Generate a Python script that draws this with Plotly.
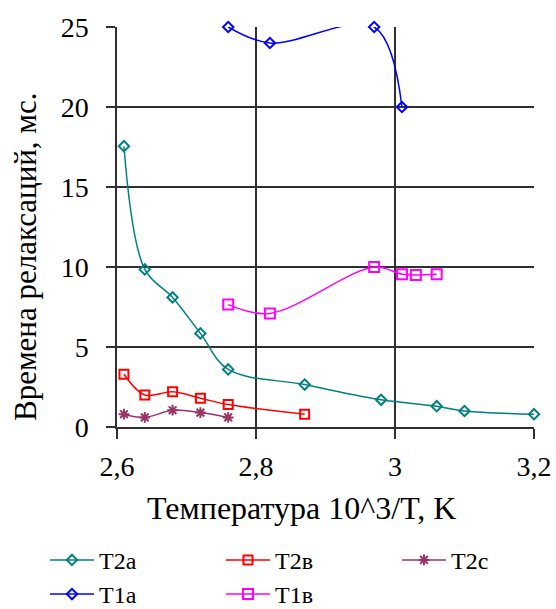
import plotly.graph_objects as go

# Data
t2a_x = [2.61, 2.64, 2.68, 2.72, 2.76, 2.87, 2.98, 3.06, 3.10, 3.20]
t2a_y = [17.55, 9.85, 8.1, 5.85, 3.6, 2.65, 1.7, 1.3, 1.0, 0.8]
t2b_x = [2.61, 2.64, 2.68, 2.72, 2.76, 2.87]
t2b_y = [3.3, 2.0, 2.2, 1.8, 1.4, 0.8]
t2c_x = [2.61, 2.64, 2.68, 2.72, 2.76]
t2c_y = [0.8, 0.6, 1.05, 0.9, 0.6]
t1a_x = [2.76, 2.82, 2.97, 3.01]
t1a_y = [25.0, 24.0, 25.0, 20.0]
t1b_x = [2.76, 2.82, 2.97, 3.01, 3.03, 3.06]
t1b_y = [7.65, 7.1, 10.0, 9.55, 9.5, 9.55]

x_title = "Температура 10^3/T, K"
y_title = "Времена релаксаций, мс."

FONT = "Liberation Serif, Times New Roman, serif"

series = [
    ("T2a", t2a_x, t2a_y, "#008080", "diamond-open", 8),
    ("T2в", t2b_x, t2b_y, "#FF0000", "square-open", 9),
    ("T2c", t2c_x, t2c_y, "#993366", "asterisk-open", 9),
    ("T1a", t1a_x, t1a_y, "#0000FF", "diamond-open", 8),
    ("T1в", t1b_x, t1b_y, "#FF00FF", "square-open", 10),
]

fig = go.Figure()
for name, xs, ys, col, sym, sz in series:
    fig.add_trace(go.Scatter(
        x=xs, y=ys, name=name, mode="lines+markers",
        line=dict(color=col, width=1.5, shape="spline", smoothing=1.0),
        marker=dict(symbol=sym, size=sz, color=col, line=dict(color=col, width=2)),
        cliponaxis=False,
    ))

fig.update_layout(
    width=556, height=609,
    margin=dict(l=117, r=22, t=27, b=182, autoexpand=False),
    paper_bgcolor="white", plot_bgcolor="white",
    separators=", ",
    font=dict(family=FONT, size=28, color="black"),
    showlegend=True,
    legend=dict(
        orientation="h", x=-0.1727, xref="paper", y=-0.277, yanchor="top",
        xanchor="left",
        entrywidth=117, entrywidthmode="pixels", itemwidth=44,
        font=dict(family=FONT, size=24, color="black"),
        tracegroupgap=0, itemsizing="trace",
        bgcolor="rgba(0,0,0,0)",
    ),
    annotations=[
        dict(text=y_title, xref="paper", yref="paper", x=-0.2206, y=0.425,
             xanchor="center", yanchor="middle", textangle=-90, showarrow=False,
             font=dict(family=FONT, size=31, color="black")),
        dict(text=x_title, xref="paper", yref="paper", x=0.4424, y=-0.2025,
             xanchor="center", yanchor="middle", showarrow=False,
             font=dict(family=FONT, size=32, color="black")),
    ],
)
fig.update_xaxes(
    range=[2.6, 3.2], dtick=0.2, tick0=2.6,
    showgrid=True, gridcolor="#303030", gridwidth=1.5,
    showline=True, linecolor="#303030", linewidth=1.5,
    ticks="outside", ticklen=10, tickcolor="#303030", tickwidth=1.5,
    zeroline=False, ticklabelstandoff=4,
    tickfont=dict(family=FONT, size=28),
)
fig.update_yaxes(
    range=[0, 25], dtick=5,
    showgrid=True, gridcolor="#303030", gridwidth=1.5,
    showline=True, linecolor="#303030", linewidth=1.5,
    ticks="outside", ticklen=9, tickcolor="#303030", tickwidth=1.5,
    zeroline=False, ticklabelstandoff=12,
    tickfont=dict(family=FONT, size=28),
)

fig.write_html("out.html", config={"displayModeBar": False},
               post_script="document.body.style.margin='0px';")
